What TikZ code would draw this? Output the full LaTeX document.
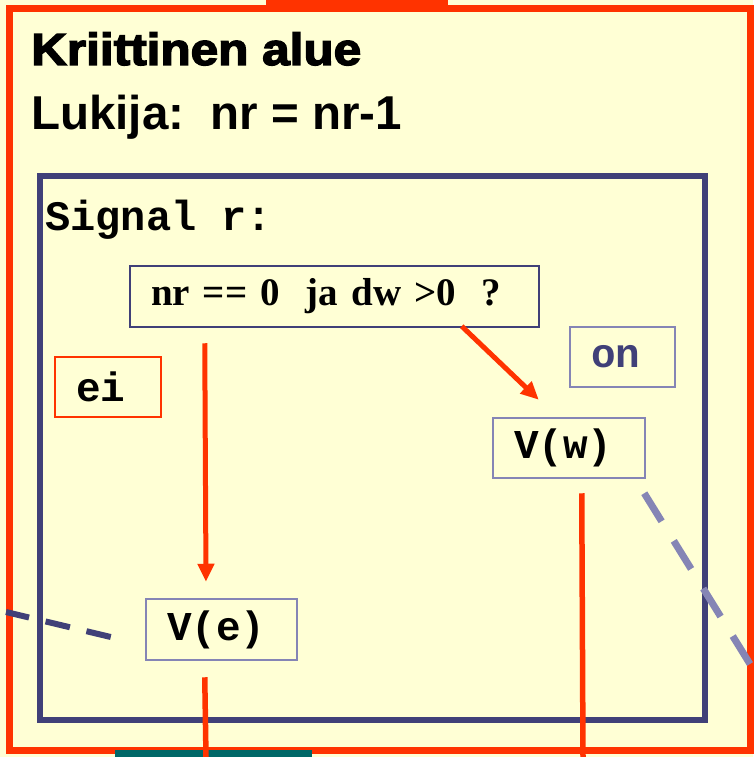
\documentclass[tikz,border=0pt]{standalone}
\usepackage{fontspec}
\setmainfont{Liberation Serif}
\setsansfont{Liberation Sans}
\setmonofont{Liberation Mono}
\newfontfamily\headfont{Liberation Sans}[BoldFeatures={FakeBold=3}]
\usetikzlibrary{arrows.meta}
\definecolor{bg}{HTML}{FFFFD5}
\definecolor{redc}{HTML}{FF3300}
\definecolor{navy}{HTML}{404078}
\definecolor{lilac}{HTML}{8585B5}
\definecolor{tealc}{HTML}{006868}
\begin{document}
\begin{tikzpicture}[x=1pt,y=-1pt,
  headtxt/.style={anchor=base west,inner sep=0pt,font=\headfont\bfseries\fontsize{45}{50}\selectfont},
  subtxt/.style={anchor=base west,inner sep=0pt,font=\sffamily\bfseries\fontsize{47.5}{52}\selectfont},
  monotxt/.style={font=\ttfamily\bfseries\fontsize{41}{46}\selectfont},
  mbox/.style={draw=lilac,line width=2.5pt,fill=bg,inner xsep=21pt,inner ysep=0pt,align=left,monotxt},
  arr/.style={draw=redc,line width=5pt,-{Triangle[length=18pt,width=16pt]}},
  redline/.style={draw=redc,line width=5.5pt},
]
\fill[bg] (0,0) rectangle (753,757);
\useasboundingbox (0,0) rectangle (753,757);
\fill[redc] (266,0) rectangle (448,10);
\draw[redc,line width=7pt] (9.5,9) rectangle (750,750.5);
\fill[tealc] (115,750) rectangle (312,757);
\draw[navy,line width=6pt] (40,176) rectangle (705,720);

\node[headtxt] (title) at (31,65) {\scalebox{1.1}[1]{Kriittinen alue}};
\node[subtxt] (lukija) at (31,130) {Lukija:\ \ nr = nr-1};
\node[monotxt,anchor=base west,inner sep=0pt,font=\ttfamily\bfseries\fontsize{42}{46}\selectfont] (signal) at (45,230) {Signal r:};

\node[draw=navy,line width=2.5pt,fill=bg,minimum width=409pt,minimum height=61pt,text width=367pt,inner xsep=21pt,inner ysep=0pt,align=left,font=\rmfamily\bfseries\fontsize{39}{46}\selectfont] (cond) at (334.5,296.5) {nr == 0\ \ ja dw >0\ \ ?};
\node[mbox,draw=redc,minimum width=106pt,minimum height=60pt,text width=64pt] (ei) at (108,387) {ei};
\node[mbox,minimum width=105pt,minimum height=60pt,text width=63pt,text=navy] (on) at (622.5,357) {on};
\node[mbox,minimum width=152pt,minimum height=60pt,text width=110pt] (vw) at (569,448) {V(w)};
\node[mbox,minimum width=151pt,minimum height=61pt,text width=109pt] (ve) at (221.5,629.5) {V(e)};

\coordinate (bot1) at (583,757);
\coordinate (bot2) at (206,757);
\coordinate (leftend) at (6,612);
\coordinate (rightend) at (750,664);

\draw[arr] ([xshift=76pt,yshift=-15pt]cond.south west) -- ([xshift=-15.5pt,yshift=16pt]ve.north);
\draw[arr] ([xshift=333pt,yshift=2pt]cond.south west) -- ([xshift=47pt,yshift=17pt]vw.north west);
\draw[redline] ([xshift=90pt,yshift=-14pt]vw.south west) -- (bot1);
\draw[redline] ([xshift=60pt,yshift=-16pt]ve.south west) -- (bot2);
\draw[navy,line width=6pt,dash pattern=on 25pt off 17pt] ([xshift=-34pt,yshift=-7.5pt]ve.west) -- (leftend);
\draw[lilac,line width=7pt,dash pattern=on 33pt off 23pt] ([xshift=-2pt,yshift=-14pt]vw.south east) -- (rightend);
\end{tikzpicture}
\end{document}
